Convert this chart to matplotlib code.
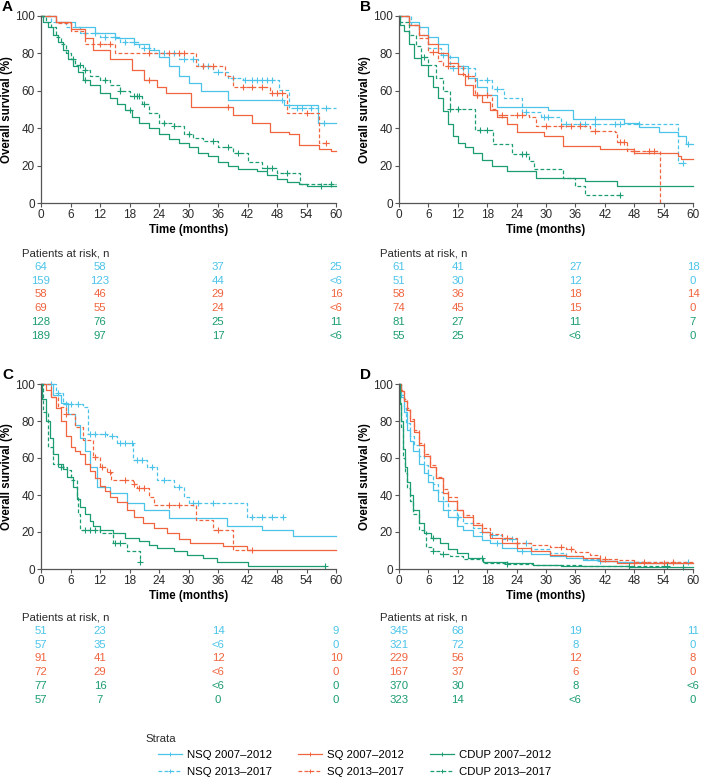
import matplotlib
import matplotlib.pyplot as plt
from matplotlib import transforms
from matplotlib.lines import Line2D
import numpy as np

matplotlib.use("Agg")

plt.rcParams["font.family"] = ["Liberation Sans", "DejaVu Sans"]

BLUE = "#4cc4e9"
RED = "#f0643f"
GREEN = "#1b9c72"

# ---- panel A: step times (months) and survival (%), censor times ----
a_nsq07_t = [0, 3, 7, 11, 15, 19, 22, 24, 26, 28, 30, 32.5, 38, 49.5, 56.4, 60]
a_nsq07_s = [100, 97, 94, 91, 88, 85, 82, 78, 73, 68, 64, 60, 55, 52.5, 43, 43]
a_nsq07_c = [49, 57.5]
a_nsq13_t = [0, 2, 5, 8, 12, 16, 20, 23, 28, 32, 35, 38, 41, 48.5, 50.5, 60]
a_nsq13_s = [100, 97, 94, 91, 89, 86, 83, 80, 77, 73, 70, 67, 66, 60.5, 51, 51]
a_nsq13_c = [9, 11, 13, 15, 17, 19, 21, 25, 27, 29, 31, 33, 34, 36, 39, 41.5,
             43, 44, 45, 46, 47, 52, 53, 55, 58]
a_sq07_t = [0, 3, 6, 9, 10.5, 14, 18.5, 21, 23.5, 25.5, 30.5, 39, 43, 46.5,
            50.5, 52.5, 56.5, 59, 60]
a_sq07_s = [100, 97, 93, 88, 82, 77, 71, 66, 62, 59, 51.6, 47, 43, 38, 37, 31,
            29, 28, 28]
a_sq07_c = [22, 38]
a_sq13_t = [0, 3, 6, 9, 15, 31.5, 37.5, 39, 46.5, 50, 56.5, 58.5]
a_sq13_s = [100, 96, 92, 85, 80, 73, 68, 62, 59, 48, 32, 32]
a_sq13_c = [12, 14, 22, 26, 28, 29, 33, 35, 41, 43, 45, 47, 48, 49, 54, 58]
a_cdup07_t = [0, 0.5, 1.5, 2.5, 3.5, 4.5, 5.5, 6.5, 7.5, 8.5, 10, 12, 14, 15.5,
              17, 18.5, 20, 22, 24, 26, 28, 30, 32, 34, 36, 38, 40, 44, 46,
              48, 50, 52.5, 54, 60]
a_cdup07_s = [100, 97, 94, 90, 86, 82, 77, 73, 70, 66, 63, 59, 56, 53, 50, 46,
              43, 40, 37, 34, 32, 30, 27, 25, 22, 20, 18, 17, 15, 13, 11, 10,
              9, 9]
a_cdup07_c = [9, 18, 57]
a_cdup13_t = [0, 1, 2, 3, 4, 5, 6, 7, 8.5, 10, 12, 14, 16, 18, 20.5, 22, 24,
              27, 29, 31, 33, 36, 39, 42, 45, 48, 52.7, 60]
a_cdup13_s = [100, 97, 94, 89, 85, 80, 77, 74, 71, 68, 66, 63, 60, 57, 53, 48,
              43, 41, 37, 35, 33, 30, 26.5, 22, 18.5, 16, 10.4, 10.4]
a_cdup13_c = [6.5, 8, 9, 13, 16, 19, 19.5, 20, 21, 25, 27, 30, 35, 38, 40, 46,
              47, 50, 59]

# ---- panel B ----
b_nsq07_t = [0, 2, 4, 6, 8, 10, 12, 14, 16, 18, 20, 30.5, 35.5, 46, 49, 53, 57,
             58.5, 60]
b_nsq07_s = [100, 97, 94, 89, 85, 78, 73, 67, 62, 58, 51.5, 49.5, 45, 43, 40.5,
             38, 36, 31.5, 31.5]
b_nsq07_c = [40, 59]
b_nsq13_t = [0, 2.5, 4, 6, 8.5, 10.5, 15.5, 19, 21.5, 25, 29, 33, 57, 58]
b_nsq13_s = [100, 95, 90, 83, 79, 72, 66, 61, 56, 48.6, 46, 42, 21.6, 21.6]
b_nsq13_c = [9, 11, 13, 18, 20, 26, 29.5, 30.5, 34, 37, 38, 40, 44, 45, 49, 58]
b_sq07_t = [0, 2, 4, 6, 8, 10, 12, 13.5, 15, 17, 18.5, 20, 22, 24, 29.5, 33.5,
            41, 48, 57, 57.5, 60]
b_sq07_s = [100, 95, 90, 85, 80, 75, 69, 63, 58, 54, 50, 46, 42, 38, 36, 30.6,
            29, 27, 25, 23.4, 23.4]
b_sq07_c = [16]
b_sq13_t = [0, 2, 4, 6, 8, 9, 13, 15.5, 19, 20, 26.5, 28, 39, 44, 44.5, 46.5,
            53.2]
b_sq13_s = [100, 95, 88, 81, 76, 73, 68, 58, 50.5, 47, 46, 41.4, 38.7, 37.8,
            32.4, 28, 0]
b_sq13_c = [7, 10, 14, 16, 18, 21, 24, 25, 30, 33, 35, 37, 40, 45, 46, 48, 51,
            52]
b_cdup07_t = [0, 0.3, 1, 2, 3, 4.5, 6, 7, 8, 9, 10, 11, 12, 13.5, 15, 17, 19,
              22, 28, 38, 44.5, 60]
b_cdup07_s = [100, 95, 92, 85, 77.5, 74, 68, 62, 56, 49, 42, 36, 32, 30, 27,
              23, 20, 17, 13.5, 11.7, 9, 9]
b_cdup07_c = []
b_cdup13_t = [0, 0.3, 2, 3.5, 4.5, 6, 7.5, 9, 10.5, 15.5, 19.2, 23, 26.5, 27.5,
              33.5, 36, 38, 45]
b_cdup13_s = [100, 97, 90, 84, 78, 74, 67, 60, 50.5, 39, 31.5, 26, 22.5, 18,
              13.5, 9, 4.5, 4.5]
b_cdup13_c = [5, 10.5, 12, 16.5, 18, 25, 26, 45]

# ---- panel C ----
c_nsq07_t = [0, 2.5, 4, 5.5, 7, 8, 9, 10, 11.3, 14, 17.4, 21, 26, 37.8, 45,
             51.3, 60]
c_nsq07_s = [100, 94, 90, 84, 78, 71, 64, 55, 44.5, 41, 35.5, 32, 27.4, 23, 21,
             17.6, 17.6]
c_nsq07_c = []
c_nsq13_t = [0, 3, 4.5, 8.6, 9.5, 13.4, 15.5, 18.8, 21.5, 23.5, 27, 29, 30,
             41.8, 49.3]
c_nsq13_s = [100, 95, 89, 87.5, 73, 72, 68, 59, 55, 48, 44.5, 39, 35.5, 28.3,
             28.3]
c_nsq13_c = [2, 3.5, 5, 6, 7.5, 10, 11, 13, 14.5, 16, 17, 18.5, 19.5, 20.5,
             22.5, 25, 28, 31, 32, 35, 43, 45, 47, 49.3]
c_sq07_t = [0, 1, 2, 3, 4, 5, 6, 7, 8, 9, 10, 11, 12, 13, 14, 15.5, 17.4, 19,
            20.8, 23, 25.6, 28, 30.3, 37, 41.8, 60]
c_sq07_s = [100, 97, 93, 87, 80, 72, 66, 64, 62, 57, 53, 49, 45, 42, 39, 36,
            32, 28, 24.8, 22, 19.4, 16, 14, 12.2, 10.4, 10.4]
c_sq07_c = []
c_sq13_t = [0, 2, 3.5, 5, 7, 8.5, 10.6, 12, 13.4, 14.2, 18.8, 19.5, 22, 23,
            31.5, 35, 39, 43]
c_sq13_s = [100, 93, 87.5, 84, 77, 70, 60.6, 55, 52.5, 48, 46, 43.6, 39, 34.6,
            26.5, 21, 10.4, 10.4]
c_sq13_c = [5, 11, 12.5, 14, 17, 19, 20, 21, 26, 28, 36, 43]
c_cdup07_t = [0, 0.3, 1, 1.8, 2.5, 3.5, 4.5, 5.2, 6.6, 7.3, 8, 9, 10, 10.6, 12,
              14.7, 17, 20, 22, 23.5, 27, 29.6, 33, 35.7, 42, 57.7]
c_cdup07_s = [100, 92, 80, 71, 62, 57, 54, 50, 44.5, 38, 33.7, 30, 26, 23, 21,
              19.4, 17, 15, 13, 11.3, 10, 7.7, 6, 4, 1.4, 1.4]
c_cdup07_c = [57.7]
c_cdup13_t = [0, 0.5, 1.5, 2.5, 3.5, 5.2, 6, 7.3, 7.6, 8, 12, 14.7, 17.4, 20.1]
c_cdup13_s = [100, 85, 66, 57, 55, 53.5, 48, 39, 30, 21, 19.4, 14, 9.5, 4]
c_cdup13_c = [4, 9, 10, 11, 15, 16, 20.1]

# ---- panel D ----
d_nsq07_t = [0, 0.5, 1, 1.6, 2.2, 2.9, 4, 5, 6, 7, 8, 9, 10, 11.8, 13, 15, 17,
             18.5, 21, 24, 27, 30.8, 34, 37.6, 41, 44.4, 50, 60]
d_nsq07_s = [100, 93, 85, 75, 69, 64, 57, 51.7, 47, 42.7, 37, 32, 28, 23, 21,
             17.6, 15.5, 14, 11.5, 9.5, 8, 6.8, 6, 5, 4.5, 4, 3.5, 3.5]
d_nsq07_c = [20, 25]
d_nsq13_t = [0, 0.5, 1, 1.5, 2.2, 3, 4, 5, 6, 7, 8, 9, 10, 11.8, 13, 15, 17,
             18.5, 21, 24, 27, 30.8, 34, 37.6, 41, 44.4, 50, 59]
d_nsq13_s = [100, 94, 87, 79, 72, 67, 61, 56, 51, 46, 41.5, 37, 32, 28, 25, 22,
             20, 18.5, 16, 14, 11, 8.6, 7, 5.4, 4.5, 4, 3.6, 3.6]
d_nsq13_c = [12, 17, 19, 23, 26, 41, 59]
d_sq07_t = [0, 0.5, 1, 1.6, 2.2, 3, 4, 5, 6.3, 7.5, 9, 10, 11.8, 13, 15, 17,
            18.5, 21, 24, 27, 30.8, 34, 37.6, 41, 44.4, 60]
d_sq07_s = [100, 96, 91, 86, 80, 74, 67, 61, 55, 49, 41, 37, 32, 28, 24, 20,
            17, 14, 11.3, 9.5, 7.7, 6.8, 6, 4.5, 3.5, 3.5]
d_sq07_c = [48, 54]
d_sq13_t = [0, 0.5, 1, 1.6, 2.2, 3, 4, 5, 6.3, 7.5, 9, 10, 11.8, 13, 15, 17,
            18.5, 21, 24, 27, 30.8, 34, 36, 39, 41, 44.4, 48, 60]
d_sq13_s = [100, 97, 92, 87, 81, 75, 68, 62, 56, 50, 43, 39, 32, 29, 25, 22,
            19, 17, 14, 13, 12, 11, 9, 7.5, 5.4, 5, 4, 4]
d_sq13_c = [22, 24, 33, 35, 42, 50, 56]
d_cdup07_t = [0, 0.2, 0.5, 0.9, 1.3, 1.6, 2.2, 2.9, 4, 5, 6.5, 8.4, 10, 11.8,
              14, 17.2, 22, 27.4, 33, 39, 47, 60]
d_cdup07_s = [100, 90, 80, 65, 55, 47, 40, 32, 25, 19.4, 16.5, 14, 11, 8.6, 6,
              4, 3, 2.3, 1.8, 1.4, 1, 1]
d_cdup07_c = [7, 17, 58]
d_cdup13_t = [0, 0.2, 0.5, 0.9, 1.3, 1.6, 2.2, 2.9, 4, 5.6, 7, 8.4, 10.4, 13,
              17.2, 22, 27.4, 37.6, 54.6]
d_cdup13_s = [100, 88, 77, 60, 52, 44, 37, 30, 21, 12, 9.5, 8, 6.8, 5.5, 3.2,
              2.6, 2.3, 1.4, 1.4]
d_cdup13_c = [7, 9, 22, 47, 54.6]

# ---- risk tables (rows in legend order) ----
risk_times = [0, 12, 36, 60]
risk_a = [["64", "58", "37", "25"], ["159", "123", "44", "<6"],
          ["58", "46", "29", "16"], ["69", "55", "24", "<6"],
          ["128", "76", "25", "11"], ["189", "97", "17", "<6"]]
risk_b = [["61", "41", "27", "18"], ["51", "30", "12", "0"],
          ["58", "36", "18", "14"], ["74", "45", "15", "0"],
          ["81", "27", "11", "7"], ["55", "25", "<6", "0"]]
risk_c = [["51", "23", "14", "9"], ["57", "35", "<6", "0"],
          ["91", "41", "12", "10"], ["72", "29", "<6", "0"],
          ["77", "16", "<6", "0"], ["57", "7", "0", "0"]]
risk_d = [["345", "68", "19", "11"], ["321", "72", "8", "0"],
          ["229", "56", "12", "8"], ["167", "37", "6", "0"],
          ["370", "30", "8", "<6"], ["323", "14", "<6", "0"]]

strata = ["NSQ 2007\u20132012", "NSQ 2013\u20132017", "SQ 2007\u20132012",
          "SQ 2013\u20132017", "CDUP 2007\u20132012", "CDUP 2013\u20132017"]
strata_colors = [BLUE, BLUE, RED, RED, GREEN, GREEN]
strata_dashed = [False, True, False, True, False, True]

panels = {
    "A": [(a_nsq07_t, a_nsq07_s, a_nsq07_c), (a_nsq13_t, a_nsq13_s, a_nsq13_c),
          (a_sq07_t, a_sq07_s, a_sq07_c), (a_sq13_t, a_sq13_s, a_sq13_c),
          (a_cdup07_t, a_cdup07_s, a_cdup07_c),
          (a_cdup13_t, a_cdup13_s, a_cdup13_c)],
    "B": [(b_nsq07_t, b_nsq07_s, b_nsq07_c), (b_nsq13_t, b_nsq13_s, b_nsq13_c),
          (b_sq07_t, b_sq07_s, b_sq07_c), (b_sq13_t, b_sq13_s, b_sq13_c),
          (b_cdup07_t, b_cdup07_s, b_cdup07_c),
          (b_cdup13_t, b_cdup13_s, b_cdup13_c)],
    "C": [(c_nsq07_t, c_nsq07_s, c_nsq07_c), (c_nsq13_t, c_nsq13_s, c_nsq13_c),
          (c_sq07_t, c_sq07_s, c_sq07_c), (c_sq13_t, c_sq13_s, c_sq13_c),
          (c_cdup07_t, c_cdup07_s, c_cdup07_c),
          (c_cdup13_t, c_cdup13_s, c_cdup13_c)],
    "D": [(d_nsq07_t, d_nsq07_s, d_nsq07_c), (d_nsq13_t, d_nsq13_s, d_nsq13_c),
          (d_sq07_t, d_sq07_s, d_sq07_c), (d_sq13_t, d_sq13_s, d_sq13_c),
          (d_cdup07_t, d_cdup07_s, d_cdup07_c),
          (d_cdup13_t, d_cdup13_s, d_cdup13_c)],
}
risks = {"A": risk_a, "B": risk_b, "C": risk_c, "D": risk_d}

W, H = 701, 779
# axes boxes in pixels: left, top (y=100), right, bottom (y=0)
boxes = {"A": (41, 16, 336, 203), "B": (399, 16, 693, 203),
         "C": (41, 384, 336, 569), "D": (399, 384, 693, 569)}
risk_top = {"A": 253, "B": 253, "C": 617, "D": 617}
TEXT = "#2b2b2b"
AXIS = "#555555"
DASH = (0, (3, 1.8))


def surv_at(t, s, x):
    i = np.searchsorted(t, x, side="right") - 1
    return np.asarray(s)[np.clip(i, 0, len(s) - 1)]


def draw_panel(fig, key):
    l, t, r, b = boxes[key]
    ax = fig.add_axes([l / W, 1 - b / H, (r - l) / W, (b - t) / H])
    for (ts, ss, cs), col, dashed in zip(panels[key], strata_colors, strata_dashed):
        ax.step(ts, ss, where="post", color=col, lw=0.9,
                ls=DASH if dashed else "-", clip_on=False)
        if cs:
            ax.plot(cs, surv_at(ts, ss, cs), "+", color=col, ms=4, mew=0.8,
                    clip_on=False)
    ax.set_xlim(0, 60)
    ax.set_ylim(0, 100)
    ax.set_xticks(range(0, 61, 6))
    ax.set_yticks(range(0, 101, 20))
    for side in ["top", "right"]:
        ax.spines[side].set_visible(False)
    for side in ["left", "bottom"]:
        ax.spines[side].set_color(AXIS)
        ax.spines[side].set_linewidth(0.9)
    ax.tick_params(length=3, width=0.8, color=AXIS, labelsize=8.5,
                   labelcolor=TEXT, pad=1.5)
    ax.set_xlabel("Time (months)", fontweight="bold", fontsize=8.3, labelpad=2)
    ax.set_ylabel("Overall survival (%)", fontweight="bold", fontsize=8.3,
                  labelpad=1.5)
    fig.text((l - 39) / W, 1 - (t - 9) / H, key, fontsize=11,
             fontweight="bold", va="center", ha="left")

    # risk table
    trans = transforms.blended_transform_factory(ax.transData, fig.transFigure)
    y0 = risk_top[key]
    fig.text((l - 19) / W, 1 - y0 / H, "Patients at risk, n", fontsize=8.2,
             color=TEXT, va="center", ha="left")
    for i, row in enumerate(risks[key]):
        for tm, val in zip(risk_times, row):
            ax.text(tm, 1 - (y0 + 13.8 * (i + 1)) / H, val, transform=trans,
                    fontsize=8.2, color=strata_colors[i], ha="center",
                    va="center")
    return ax


fig = plt.figure(figsize=(W / 100, H / 100), dpi=100)
for key in ["A", "B", "C", "D"]:
    draw_panel(fig, key)

fig.text(145 / W, 1 - 739 / H, "Strata", fontsize=8.2, color=TEXT,
         va="center", ha="left")
handles = [Line2D([0], [0], color=c, lw=0.9, ls=DASH if d else "-",
                  marker="+", ms=3.5, mew=0.7)
           for c, d in zip(strata_colors, strata_dashed)]
fig.legend(handles, strata, loc="upper left",
           bbox_to_anchor=(158 / W, 1 - 750 / H), ncol=3, frameon=False,
           fontsize=8.2, handlelength=2.1, handletextpad=0.45,
           columnspacing=2.3, labelspacing=0.6, borderpad=0,
           borderaxespad=0)

fig.savefig("out.png", dpi=100)
